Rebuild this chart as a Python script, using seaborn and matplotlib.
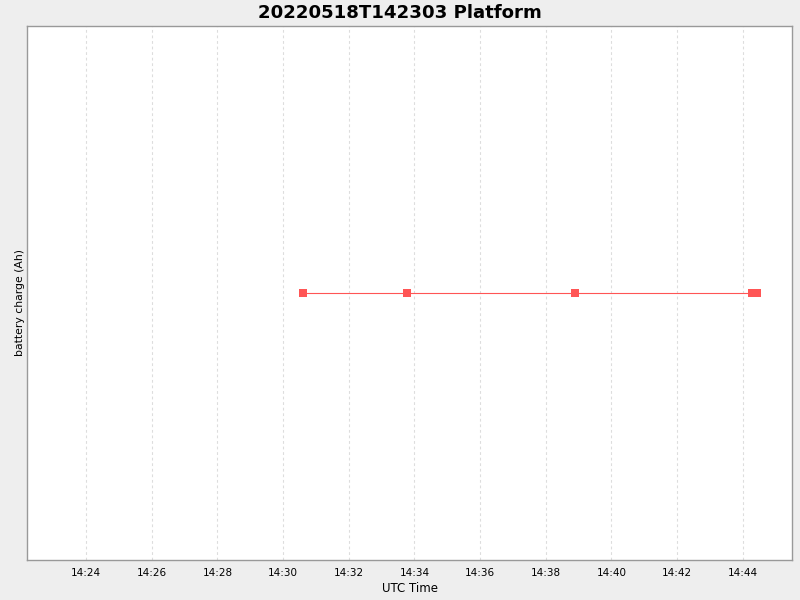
import pandas as pd
import seaborn as sns
import matplotlib
matplotlib.use("Agg")
import matplotlib.pyplot as plt
import matplotlib.dates as mdates

times = ["2022-05-18 14:30:36", "2022-05-18 14:33:46", "2022-05-18 14:38:53",
         "2022-05-18 14:44:16", "2022-05-18 14:44:26"]
charge = [10.0, 10.0, 10.0, 10.0, 10.0]

df = pd.DataFrame({"time": pd.to_datetime(times), "charge": charge})

sns.set_style("white")
plt.rcParams['font.family'] = ['DejaVu Sans']
plt.rcParams['text.color'] = 'black'
plt.rcParams['axes.labelcolor'] = 'black'
plt.rcParams['xtick.color'] = 'black'

fig = plt.figure(figsize=(8, 6), dpi=100, facecolor='#EEEEEE')
ax = fig.add_axes([27/800, 40/600, 765/800, 534/600])
ax.set_facecolor('white')

sns.lineplot(data=df, x='time', y='charge', ax=ax, color='#FF5555', linewidth=0.8,
             marker='s', markersize=6, markeredgewidth=0, markerfacecolor='#FF5555')

ax.set_xlim(pd.Timestamp("2022-05-18 14:22:12"), pd.Timestamp("2022-05-18 14:45:30"))
ax.set_ylim(9.0, 11.0)
ax.xaxis.set_major_locator(mdates.MinuteLocator(byminute=range(0, 60, 2)))
ax.xaxis.set_major_formatter(mdates.DateFormatter('%H:%M'))
ax.set_yticks([])
ax.grid(axis='x', color='#DDDDDD', linestyle=(0, (2.5, 2.5)), linewidth=0.8)
ax.tick_params(axis='x', labelsize=7.5, length=2, color='#888888', pad=4)
for s in ax.spines.values():
    s.set_color('#999999')
    s.set_linewidth(1)

ax.set_xlabel('UTC Time', fontsize=8.5, labelpad=3)
ax.set_ylabel('battery charge (Ah)', fontsize=7.8)
ax.yaxis.set_label_coords(-0.003, 0.483)
fig.suptitle('20220518T142303 Platform', fontsize=13.1, fontweight='bold', y=0.993)

fig.savefig('out.png', dpi=100, facecolor=fig.get_facecolor())
